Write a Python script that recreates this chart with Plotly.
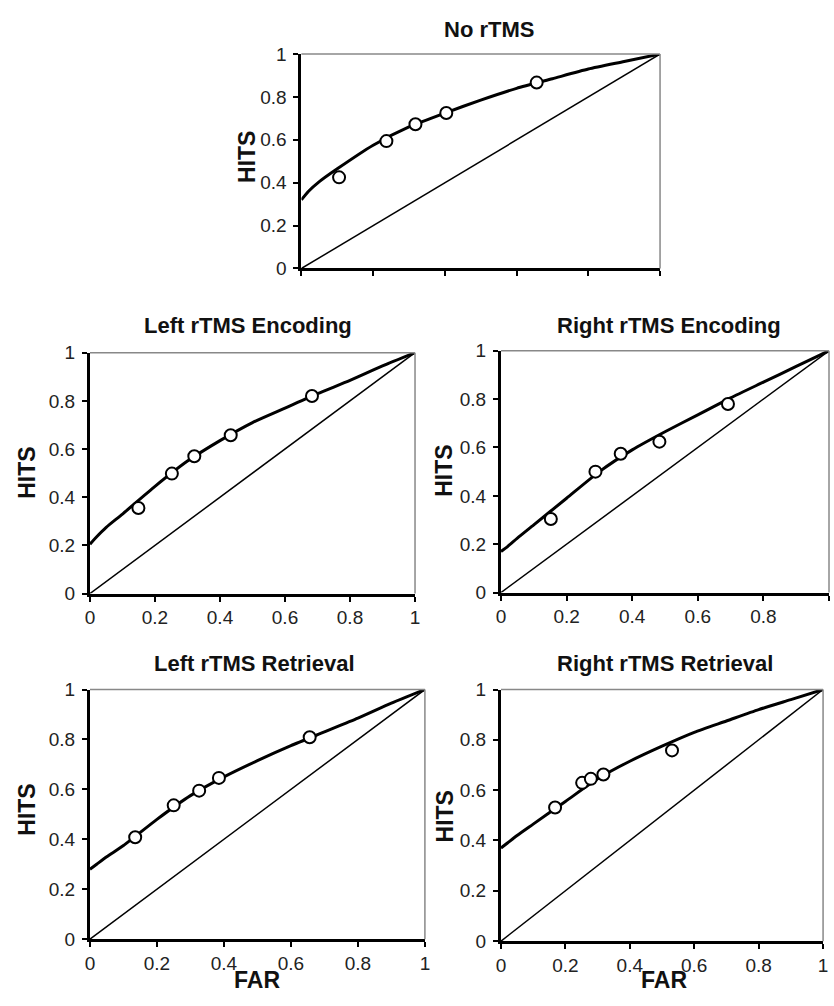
import plotly.graph_objects as go

W, H = 834, 1006

# ---- data ----
tick_vals = [0, 0.2, 0.4, 0.6, 0.8, 1]
tick_text = ["0", "0.2", "0.4", "0.6", "0.8", "1"]

curve_far = [0, 0.02, 0.05, 0.1, 0.2, 0.3, 0.4, 0.5, 0.6, 0.7, 0.8, 0.9, 1.0]
chance_far = [0, 1]
chance_hits = [0, 1]

no_far = [0.105, 0.237, 0.318, 0.404, 0.656]
no_hits = [0.425, 0.594, 0.673, 0.725, 0.867]
no_curve = [0.32, 0.36, 0.405, 0.465, 0.575, 0.66, 0.725, 0.785, 0.84, 0.885, 0.93, 0.965, 1.0]

le_far = [0.149, 0.252, 0.321, 0.433, 0.683]
le_hits = [0.355, 0.498, 0.570, 0.657, 0.820]
le_curve = [0.205, 0.235, 0.275, 0.33, 0.445, 0.55, 0.635, 0.71, 0.77, 0.83, 0.885, 0.945, 1.0]

re_far = [0.152, 0.288, 0.365, 0.483, 0.692]
re_hits = [0.304, 0.500, 0.574, 0.624, 0.780]
re_curve = [0.17, 0.19, 0.225, 0.28, 0.39, 0.50, 0.59, 0.665, 0.735, 0.805, 0.87, 0.935, 1.0]

lr_far = [0.135, 0.250, 0.326, 0.385, 0.656]
lr_hits = [0.408, 0.536, 0.595, 0.646, 0.809]
lr_curve = [0.28, 0.30, 0.33, 0.375, 0.48, 0.575, 0.65, 0.715, 0.775, 0.83, 0.885, 0.945, 1.0]

rr_far = [0.168, 0.252, 0.279, 0.318, 0.531]
rr_hits = [0.531, 0.629, 0.645, 0.662, 0.758]
rr_curve = [0.37, 0.39, 0.42, 0.465, 0.555, 0.645, 0.715, 0.775, 0.83, 0.875, 0.92, 0.96, 1.0]

titles = ["No rTMS", "Left rTMS Encoding", "Right rTMS Encoding",
          "Left rTMS Retrieval", "Right rTMS Retrieval"]

# ---- layout helpers (pixel boxes) ----
def px_x(x):
    return x / W

def px_y(y):
    return 1 - y / H

# (left, top, right, bottom) in pixels
boxes = [(300, 45, 663, 264), (86, 350, 415, 596), (502, 348, 834, 595),
         (86, 694, 425, 949), (502, 694, 828, 951)]

panels = [(no_far, no_hits, no_curve), (le_far, le_hits, le_curve),
          (re_far, re_hits, re_curve), (lr_far, lr_hits, lr_curve),
          (rr_far, rr_hits, rr_curve)]

FONT = "Arial, Liberation Sans, Helvetica, sans-serif"

fig = go.Figure()
shapes = []
for i, ((pf, ph, pc), box) in enumerate(zip(panels, boxes)):
    n = "" if i == 0 else str(i + 1)
    xa, ya = "x" + n, "y" + n
    fig.add_trace(go.Scatter(x=chance_far, y=chance_hits, mode="lines",
                             line=dict(color="black", width=1.5),
                             xaxis=xa, yaxis=ya, showlegend=False))
    fig.add_trace(go.Scatter(x=curve_far, y=pc, mode="lines",
                             line=dict(color="black", width=3, shape="spline", smoothing=0.6),
                             xaxis=xa, yaxis=ya, showlegend=False))
    fig.add_trace(go.Scatter(x=pf, y=ph, mode="markers",
                             marker=dict(symbol="circle", size=12, color="white",
                                         line=dict(color="black", width=2)),
                             xaxis=xa, yaxis=ya, showlegend=False, cliponaxis=False))
    l, t, r, b = box
    common = dict(range=[0, 1], showgrid=False, zeroline=False, showline=True,
                  linecolor="black", linewidth=3, mirror=False, ticks="outside",
                  ticklen=5, tickwidth=2, tickcolor="black", tickvals=tick_vals,
                  ticktext=tick_text, tickfont=dict(family=FONT, size=19, color="#222"),
                  fixedrange=True)
    fig.layout["xaxis" + n] = dict(common, domain=[px_x(l), min(px_x(r), 1)],
                                   anchor=ya, showticklabels=(i != 0))
    fig.layout["yaxis" + n] = dict(common, domain=[px_y(b), px_y(t)], anchor=xa,
                                   ticklabelstandoff=3)
    for (x0, y0, x1, y1) in [(0, 1, 1, 1), (1, 0, 1, 1)]:
        shapes.append(dict(type="line", xref=xa + " domain", yref=ya + " domain",
                           x0=x0, y0=y0, x1=x1, y1=y1,
                           line=dict(color="#888", width=1.5)))

ann = []
title_pos = [(490, 20), (246, 322), (672, 322), (253, 667), (668, 667)]
for txt, (x, y) in zip(titles, title_pos):
    ann.append(dict(text="<b>%s</b>" % txt, x=px_x(x), y=px_y(y), xref="paper", yref="paper",
                    showarrow=False, font=dict(family=FONT, size=22, color="#111"),
                    xanchor="center", yanchor="middle"))
hits_pos = [(245, 150), (22, 473), (445, 471), (22, 817), (445, 824)]
for (x, y) in hits_pos:
    ann.append(dict(text="<b>HITS</b>", x=px_x(x), y=px_y(y), xref="paper", yref="paper",
                    showarrow=False, textangle=-90, font=dict(family=FONT, size=23, color="#111"),
                    xanchor="center", yanchor="middle"))
far_pos = [(255, 1005), (667, 1005)]
for (x, y) in far_pos:
    ann.append(dict(text="<b>FAR</b>", x=px_x(x), y=px_y(y), xref="paper", yref="paper",
                    showarrow=False, font=dict(family=FONT, size=23, color="#111"),
                    xanchor="center", yanchor="bottom", borderpad=0))

fig.update_layout(width=W, height=H, margin=dict(l=0, r=0, t=0, b=0),
                  paper_bgcolor="white", plot_bgcolor="white",
                  shapes=shapes, annotations=ann, showlegend=False)

fig.write_html("out.html")
